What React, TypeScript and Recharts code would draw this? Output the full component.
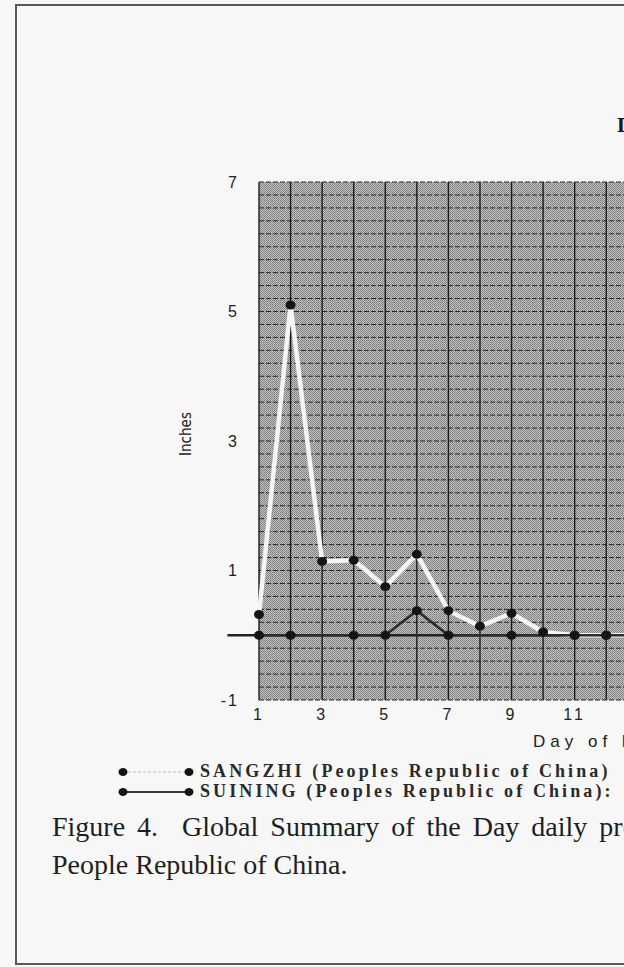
import { Line, LineChart, ReferenceArea, ReferenceLine, XAxis, YAxis } from "recharts";

const days = [1, 2, 3, 4, 5, 6, 7, 8, 9, 10, 11, 12, 13];
const sangzhi = [0.32, 5.1, 1.14, 1.16, 0.75, 1.25, 0.38, 0.14, 0.34, 0.05, 0, 0, 0];
const suining = [0, 0, null, 0, 0, 0.38, 0, null, 0, null, 0, 0, 0];
const yTicks = [-1, 1, 3, 5, 7];
const xTicks = [1, 3, 5, 7, 9, 11, 13, 15, 17, 19, 21, 23, 25, 27, 29, 31];

// grid: one solid line per day, a dashed line every 0.2 inch
const dayLines = Array.from({ length: 31 }, (_, i) => i + 1);
const inchLines = Array.from({ length: 41 }, (_, i) => Math.round((-1 + i * 0.2) * 10) / 10);

const data = days.map((day, i) => ({ day, sangzhi: sangzhi[i], suining: suining[i] }));

const tickFont = { fill: "#222", fontSize: 16, fontFamily: "Liberation Sans, Arial, sans-serif", letterSpacing: 3 };

const blackDot = (props: any) =>
  props.cy == null ? <g key={props.key} /> : (
    <ellipse key={props.key} cx={props.cx} cy={props.cy} rx={5} ry={4.5} fill="#151515" />
  );

export default function App() {
  return (
    <div
      style={{
        position: "fixed",
        left: 0,
        top: 0,
        width: 624,
        height: 967,
        overflow: "hidden",
        background: "#f6f7f6",
        fontFamily: "Liberation Serif, Times New Roman, serif",
      }}
    >
      <svg width={0} height={0} style={{ position: "absolute" }}>
        <defs>
          <pattern id="stipple" width={2} height={2} patternUnits="userSpaceOnUse">
            <rect width={2} height={2} fill="#c4c4c4" />
            <rect width={1} height={1} fill="#7a7a7a" />
            <rect x={1} y={1} width={1} height={1} fill="#868686" />
          </pattern>
        </defs>
      </svg>

      <div
        style={{
          position: "absolute",
          left: 15,
          top: 4,
          width: 700,
          height: 957,
          border: "2px solid #5a5a5a",
        }}
      />

      <div
        style={{
          position: "absolute",
          left: 617,
          top: 112,
          fontSize: 22,
          fontWeight: "bold",
          whiteSpace: "nowrap",
          color: "#1a1a1a",
        }}
      >
        Daily Precipitation
      </div>

      <div
        style={{
          position: "absolute",
          left: 186,
          top: 434,
          transform: "translate(-50%, -50%) rotate(-90deg)",
          fontSize: 15,
          fontFamily: "Liberation Sans Narrow, DejaVu Sans Condensed, sans-serif",
          color: "#222",
          whiteSpace: "nowrap",
        }}
      >
        Inches
      </div>

      <div style={{ position: "absolute", left: 0, top: 0 }}>
        <LineChart width={1206} height={730} data={data} margin={{ top: 182, right: 0, bottom: 0, left: 0 }}>
          <XAxis
            type="number"
            dataKey="day"
            domain={[1, 31]}
            ticks={xTicks}
            interval={0}
            axisLine={false}
            tickLine={false}
            tickSize={0}
            tickMargin={9}
            tick={tickFont}
            height={30}
          />
          <YAxis
            type="number"
            domain={[-1, 7]}
            ticks={yTicks}
            interval={0}
            axisLine={false}
            tickLine={false}
            tickSize={0}
            tickMargin={20}
            tick={{ ...tickFont, letterSpacing: 2 }}
            width={259}
          />
          <ReferenceArea x1={1} x2={31} y1={-1} y2={7} fill="url(#stipple)" fillOpacity={1} stroke="none" />
          {inchLines.map((v) => (
            <ReferenceLine key={"h" + v} y={v} stroke="#262626" strokeWidth={1} strokeDasharray="5 2" />
          ))}
          {dayLines.map((d) => (
            <ReferenceLine key={"v" + d} x={d} stroke="#1c1c1c" strokeWidth={1.4} />
          ))}
          <ReferenceLine
            segment={[
              { x: 0, y: 0 },
              { x: 31, y: 0 },
            ]}
            ifOverflow="visible"
            stroke="#222"
            strokeWidth={2.5}
          />
          <Line
            type="linear"
            dataKey="sangzhi"
            stroke="#f4f4f4"
            strokeWidth={4.5}
            dot={blackDot}
            isAnimationActive={false}
          />
          <Line
            type="linear"
            dataKey="suining"
            stroke="#2b2b2b"
            strokeWidth={2.5}
            connectNulls
            dot={blackDot}
            isAnimationActive={false}
          />
        </LineChart>
      </div>

      <div
        style={{
          position: "absolute",
          left: 533,
          top: 732,
          fontSize: 17,
          letterSpacing: 5,
          fontFamily: "Liberation Sans, Arial, sans-serif",
          color: "#222",
          whiteSpace: "nowrap",
        }}
      >
        Day of Month
      </div>

      {[
        { name: "SANGZHI (Peoples Republic of China)", line: "#d8d8d8", dash: "3 2", top: 762 },
        { name: "SUINING (Peoples Republic of China):", line: "#333", dash: "", top: 782 },
      ].map((s) => (
        <div
          key={s.name}
          style={{
            position: "absolute",
            left: 118,
            top: s.top,
            height: 19,
            display: "flex",
            alignItems: "center",
            whiteSpace: "nowrap",
          }}
        >
          <svg width={76} height={14}>
            <line x1={5} y1={7} x2={71} y2={7} stroke={s.line} strokeWidth={2} strokeDasharray={s.dash} />
            <ellipse cx={5} cy={7} rx={4.5} ry={4} fill="#151515" />
            <ellipse cx={71} cy={7} rx={4.5} ry={4} fill="#151515" />
          </svg>
          <span
            style={{
              marginLeft: 6,
              fontSize: 18,
              lineHeight: "19px",
              letterSpacing: 3.1,
              fontWeight: "bold",
              color: "#2a2a2a",
            }}
          >
            {s.name}
          </span>
        </div>
      ))}

      <div
        style={{
          position: "absolute",
          left: 52,
          top: 808,
          fontSize: 28,
          lineHeight: "38px",
          color: "#1e1e1e",
          whiteSpace: "nowrap",
        }}
      >
        <div style={{ wordSpacing: 5 }}>
          Figure 4.&nbsp; Global Summary of the Day daily precipitation for Sangzhi and Suining,
        </div>
        <div>People Republic of China.</div>
      </div>
    </div>
  );
}
